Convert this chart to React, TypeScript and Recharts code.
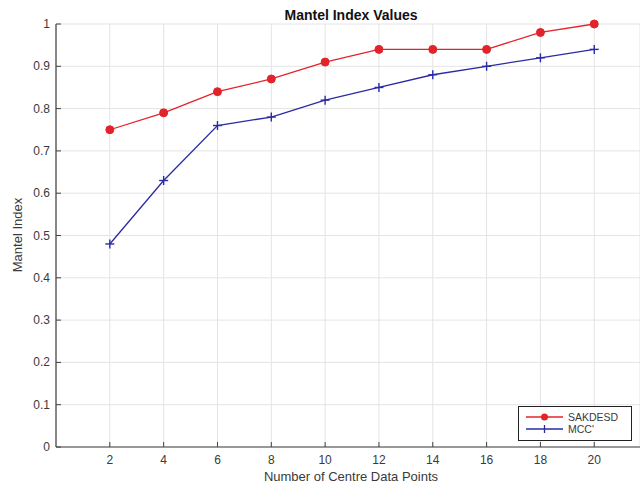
import React from 'react';
import { LineChart, Line, XAxis, YAxis, CartesianGrid, Legend } from 'recharts';

const centrePoints = [2, 4, 6, 8, 10, 12, 14, 16, 18, 20];
const sakdesdValues = [0.75, 0.79, 0.84, 0.87, 0.91, 0.94, 0.94, 0.94, 0.98, 1.0];
const mccValues = [0.48, 0.63, 0.76, 0.78, 0.82, 0.85, 0.88, 0.9, 0.92, 0.94];
const xTicks = [2, 4, 6, 8, 10, 12, 14, 16, 18, 20];
const yTicks = [0, 0.1, 0.2, 0.3, 0.4, 0.5, 0.6, 0.7, 0.8, 0.9, 1];
const yTickLabels = ['0', '0.1', '0.2', '0.3', '0.4', '0.5', '0.6', '0.7', '0.8', '0.9', '1'];
const seriesNames = ['SAKDESD', "MCC'"];
const titleText = 'Mantel Index Values';
const xLabelText = 'Number of Centre Data Points';
const yLabelText = 'Mantel Index';

const data = centrePoints.map((n, i) => ({ n, sakdesd: sakdesdValues[i], mcc: mccValues[i] }));

const RED = '#e3232a';
const BLUE = '#2a2aa6';
const AXIS = '#404040';
const TEXT = '#3a3a3a';
const FONT = '"Liberation Sans", Arial, sans-serif';

const BottomTick = (props: any) => {
  const { x, y, payload } = props;
  return (
    <g>
      <line x1={x} y1={y} x2={x} y2={y - 5} stroke={AXIS} strokeWidth={1} />
      <text x={x} y={y + 17} textAnchor="middle" fontSize={12} fill={TEXT} fontFamily={FONT}>
        {payload.value}
      </text>
    </g>
  );
};

const TopTick = (props: any) => {
  const { x, y } = props;
  return <line x1={x} y1={y} x2={x} y2={y + 5} stroke={AXIS} strokeWidth={1} />;
};

const LeftTick = (props: any) => {
  const { x, y, payload } = props;
  const idx = yTicks.findIndex((t) => Math.abs(t - payload.value) < 1e-9);
  return (
    <g>
      <line x1={x} y1={y} x2={x + 5} y2={y} stroke={AXIS} strokeWidth={1} />
      <text x={x - 6} y={y + 4} textAnchor="end" fontSize={12} fill={TEXT} fontFamily={FONT}>
        {idx >= 0 ? yTickLabels[idx] : payload.value}
      </text>
    </g>
  );
};

const RedDot = (props: any) => {
  const { cx, cy, index } = props;
  return <circle key={`r-${index}`} cx={cx} cy={cy} r={4} fill={RED} stroke={RED} />;
};

const PlusDot = (props: any) => {
  const { cx, cy, index } = props;
  return (
    <g key={`b-${index}`}>
      <line x1={cx - 4.5} y1={cy} x2={cx + 4.5} y2={cy} stroke={BLUE} strokeWidth={1.4} />
      <line x1={cx} y1={cy - 4.5} x2={cx} y2={cy + 4.5} stroke={BLUE} strokeWidth={1.4} />
    </g>
  );
};

const LegendBox = () => (
  <svg width={114} height={35} style={{ display: 'block' }}>
    <rect x={0.5} y={0.5} width={113} height={34} fill="#fff" stroke="#222" strokeWidth={1} />
    <line x1={8} y1={11} x2={45} y2={11} stroke={RED} strokeWidth={1.3} />
    <circle cx={26.5} cy={11} r={3.5} fill={RED} />
    <text x={50} y={15} fontSize={10.5} fill={TEXT} fontFamily={FONT}>{seriesNames[0]}</text>
    <line x1={8} y1={23} x2={45} y2={23} stroke={BLUE} strokeWidth={1.3} />
    <line x1={26.5} y1={19} x2={26.5} y2={27} stroke={BLUE} strokeWidth={1.3} />
    <text x={50} y={27} fontSize={10.5} fill={TEXT} fontFamily={FONT}>{seriesNames[1]}</text>
  </svg>
);

export default function App() {
  return (
    <div style={{ position: 'absolute', left: 0, top: 0, width: 640, height: 486, background: '#fff' }}>
      <LineChart width={640} height={486} data={data} margin={{ top: 24, right: 0, left: 0, bottom: 0 }}>
        <CartesianGrid stroke="#e4e4e4" strokeWidth={1} />
        <XAxis
          dataKey="n"
          type="number"
          domain={[0, 21.7]}
          ticks={xTicks}
          height={39}
          tickSize={0}
          tickMargin={0}
          tickLine={false}
          stroke={AXIS}
          axisLine={{ stroke: AXIS, strokeWidth: 1.2 }}
          tick={<BottomTick />}
          allowDataOverflow
        />
        <XAxis
          xAxisId="top"
          orientation="top"
          type="number"
          domain={[0, 21.7]}
          ticks={xTicks}
          height={0}
          tickSize={0}
          tickMargin={0}
          tickLine={false}
          axisLine={{ stroke: AXIS, strokeWidth: 1.2 }}
          tick={<TopTick />}
          allowDataOverflow
        />
        <YAxis
          type="number"
          domain={[0, 1]}
          ticks={yTicks}
          width={56}
          tickSize={0}
          tickMargin={0}
          tickLine={false}
          axisLine={{ stroke: AXIS, strokeWidth: 1.2 }}
          tick={<LeftTick />}
          interval={0}
        />
        <Legend
          layout="vertical"
          align="center"
          verticalAlign="middle"
          content={() => <LegendBox />}
          wrapperStyle={{ position: 'absolute', left: 518, top: 406, width: 114, height: 35 }}
        />
        <Line
          type="linear"
          dataKey="sakdesd"
          name={seriesNames[0]}
          stroke={RED}
          strokeWidth={1.3}
          dot={RedDot}
          activeDot={false}
          isAnimationActive={false}
        />
        <Line
          type="linear"
          dataKey="mcc"
          name={seriesNames[1]}
          stroke={BLUE}
          strokeWidth={1.3}
          dot={PlusDot}
          activeDot={false}
          isAnimationActive={false}
        />
        <text x={351} y={20} textAnchor="middle" fontSize={14} fontWeight="bold" fill="#111" fontFamily={FONT}>
          {titleText}
        </text>
        <text x={351} y={481} textAnchor="middle" fontSize={13} fill={TEXT} fontFamily={FONT}>
          {xLabelText}
        </text>
        <text
          x={22}
          y={235}
          textAnchor="middle"
          fontSize={13}
          fill={TEXT}
          fontFamily={FONT}
          transform="rotate(-90 22 235)"
        >
          {yLabelText}
        </text>
      </LineChart>
    </div>
  );
}
